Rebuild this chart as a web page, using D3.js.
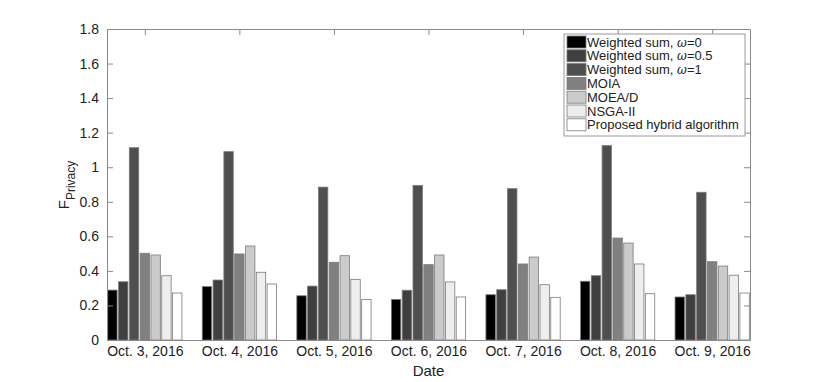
<!DOCTYPE html>
<html>
<head>
<meta charset="utf-8">
<script src="https://cdn.jsdelivr.net/npm/d3@7"></script>
<style>
  body { margin: 0; background: #fff; }
  text { font-family: "Liberation Sans", Arial, sans-serif; fill: #222; }
</style>
</head>
<body>
<div id="chart"></div>
<script>
// data
const dates = ["Oct. 3, 2016", "Oct. 4, 2016", "Oct. 5, 2016", "Oct. 6, 2016", "Oct. 7, 2016", "Oct. 8, 2016", "Oct. 9, 2016"];
const seriesNames = ["Weighted sum, |\u03c9|=0", "Weighted sum, |\u03c9|=0.5", "Weighted sum, |\u03c9|=1", "MOIA", "MOEA/D", "NSGA-II", "Proposed hybrid algorithm"];
const ws0   = [0.289, 0.309, 0.256, 0.235, 0.262, 0.340, 0.249];
const ws05  = [0.337, 0.347, 0.312, 0.288, 0.291, 0.372, 0.262];
const ws1   = [1.113, 1.090, 0.885, 0.895, 0.876, 1.125, 0.855];
const moia  = [0.502, 0.498, 0.450, 0.436, 0.440, 0.590, 0.453];
const moead = [0.492, 0.544, 0.488, 0.492, 0.480, 0.561, 0.428];
const nsga2 = [0.372, 0.392, 0.351, 0.336, 0.320, 0.440, 0.375];
const hybrid = [0.272, 0.324, 0.235, 0.249, 0.247, 0.268, 0.272];
const yTicks = [0, 0.2, 0.4, 0.6, 0.8, 1, 1.2, 1.4, 1.6, 1.8];

const series = [ws0, ws05, ws1, moia, moead, nsga2, hybrid];
const colors = ["#000000", "#3f3f3f", "#4f4f4f", "#808080", "#cbcbcb", "#eeeeee", "#ffffff"];

const W = 830, H = 382;
const plot = {left: 107, right: 750, top: 29, bottom: 340};

const svg = d3.select("#chart").append("svg")
  .attr("width", W).attr("height", H);

const x = d3.scaleLinear().domain([0.6, 7.4]).range([plot.left, plot.right]);
const y = d3.scaleLinear().domain([0, 1.8]).range([plot.bottom, plot.top]);

// bars sit at group center +/- offsets (matlab grouped bar style)
const groupWidth = 0.8, nS = series.length;
const step = groupWidth / nS, barW = step * 0.87;

svg.append("clipPath").attr("id", "clip")
  .append("rect")
  .attr("x", plot.left).attr("y", plot.top)
  .attr("width", plot.right - plot.left).attr("height", plot.bottom - plot.top);

const barsG = svg.append("g").attr("clip-path", "url(#clip)");
series.forEach(function(vals, s) {
  barsG.selectAll(null)
    .data(vals)
    .enter()
    .append("rect")
    .attr("x", function(d, i) { return x(i + 1 - groupWidth / 2 + s * step + (step - barW) / 2); })
    .attr("y", function(d) { return y(d); })
    .attr("width", function(d, i) { return x(barW) - x(0); })
    .attr("height", function(d) { return y(0) - y(d); })
    .attr("fill", colors[s])
    .attr("stroke", "#7a7a7a")
    .attr("stroke-width", 0.8);
});

// axes, box style with inward ticks
const tickLen = 6;
const axisColor = "#8a8a8a";
function styleAxis(g) {
  g.select(".domain").attr("stroke", axisColor);
  g.selectAll(".tick line").attr("stroke", axisColor);
  g.selectAll(".tick text").style("font-size", "14px").attr("fill", "#222");
}
const xVals = d3.range(1, 8);
svg.append("g")
  .attr("transform", "translate(0," + plot.bottom + ")")
  .call(d3.axisBottom(x).tickValues(xVals).tickSizeInner(-tickLen).tickSizeOuter(0).tickPadding(6)
    .tickFormat(function(d) { return dates[d - 1]; }))
  .call(styleAxis);
svg.append("g")
  .attr("transform", "translate(0," + plot.top + ")")
  .call(d3.axisTop(x).tickValues(xVals).tickSizeInner(-tickLen).tickSizeOuter(0).tickFormat(""))
  .call(styleAxis);
svg.append("g")
  .attr("transform", "translate(" + plot.left + ",0)")
  .call(d3.axisLeft(y).tickValues(yTicks).tickSizeInner(-tickLen).tickSizeOuter(0).tickPadding(8)
    .tickFormat(d3.format("")))
  .call(styleAxis);
svg.append("g")
  .attr("transform", "translate(" + plot.right + ",0)")
  .call(d3.axisRight(y).tickValues(yTicks).tickSizeInner(-tickLen).tickSizeOuter(0).tickFormat(""))
  .call(styleAxis);

// axis labels
svg.append("text")
  .attr("x", (plot.left + plot.right) / 2).attr("y", 376)
  .attr("text-anchor", "middle")
  .style("font-size", "15px")
  .text("Date");
const yl = svg.append("text")
  .attr("transform", "translate(69,185) rotate(-90)")
  .attr("text-anchor", "middle")
  .style("font-size", "15px");
yl.append("tspan").text("F");
yl.append("tspan").attr("dy", 6).style("font-size", "12px").text("Privacy");

// legend
const leg = {x: 564, y: 34, w: 181, h: 102, row: 13.8};
const legG = svg.append("g");
legG.append("rect")
  .attr("x", leg.x).attr("y", leg.y).attr("width", leg.w).attr("height", leg.h)
  .attr("fill", "#fff").attr("stroke", "#9a9a9a").attr("stroke-width", 1);
seriesNames.forEach(function(name, s) {
  const cy = leg.y + 8 + s * leg.row;
  legG.append("rect")
    .attr("x", leg.x + 3).attr("y", cy - 6)
    .attr("width", 19).attr("height", 12)
    .attr("fill", colors[s]).attr("stroke", "#7a7a7a").attr("stroke-width", 0.8);
  const t = legG.append("text")
    .attr("x", leg.x + 23).attr("y", cy + 4.5)
    .style("font-size", "13px");
  // omega is set in italics, marked with |..|
  name.split("|").forEach(function(part, k) {
    t.append("tspan").style("font-style", k === 1 ? "italic" : null)
      .style("font-family", k === 1 ? "'DejaVu Serif', serif" : null)
      .style("font-size", k === 1 ? "12px" : null)
      .text(part);
  });
});
</script>
</body>
</html>
